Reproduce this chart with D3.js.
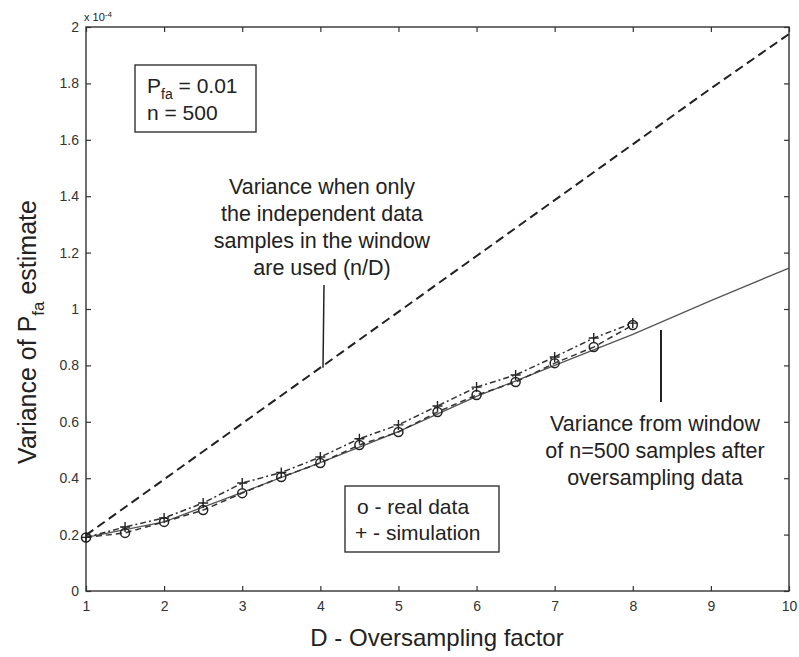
<!DOCTYPE html>
<html>
<head>
<meta charset="utf-8">
<script src="https://cdn.jsdelivr.net/npm/d3@7"></script>
<style>
  body { margin: 0; background: #fff; }
  svg text { font-family: "Liberation Sans", Arial, sans-serif; fill: #222; }
  .tick text { font-size: 14px; fill: #333; }
  .tick line { stroke: #333; stroke-width: 1.2; }
</style>
</head>
<body>
<div id="chart"></div>
<script>
// data (variance in units of 1e-4)
var dHalf = [1, 1.5, 2, 2.5, 3, 3.5, 4, 4.5, 5, 5.5, 6, 6.5, 7, 7.5, 8];
var realData = [0.19, 0.206, 0.245, 0.287, 0.347, 0.404, 0.454, 0.518, 0.564, 0.635, 0.695, 0.741, 0.808, 0.865, 0.943];
var simData = [0.19, 0.227, 0.259, 0.312, 0.383, 0.42, 0.475, 0.54, 0.589, 0.656, 0.723, 0.766, 0.83, 0.897, 0.95];

var dFull = [1, 2, 3, 4, 5, 6, 7, 8, 9, 10];
var independentVar = [0.198, 0.396, 0.594, 0.792, 0.99, 1.188, 1.386, 1.584, 1.782, 1.975];
var windowVar = [0.19, 0.245, 0.35, 0.455, 0.565, 0.69, 0.80, 0.91, 1.03, 1.145];

var xTicks = [1, 2, 3, 4, 5, 6, 7, 8, 9, 10];
var yTicks = [0, 0.2, 0.4, 0.6, 0.8, 1, 1.2, 1.4, 1.6, 1.8, 2];

var width = 799, height = 657;
var padL = 86, padR = 789, padT = 27, padB = 591;

var svg = d3.select("#chart").append("svg")
  .attr("width", width)
  .attr("height", height);

var x = d3.scaleLinear().domain([1, 10]).range([padL, padR]);
var y = d3.scaleLinear().domain([0, 2]).range([padB, padT]);

// axes, ticks pointing inward like matlab
svg.append("g")
  .attr("transform", "translate(0," + padB + ")")
  .call(d3.axisBottom(x).tickValues(xTicks).tickSize(-5).tickPadding(10).tickFormat(d3.format("d")))
  .call(function(g) { g.select(".domain").remove(); });

svg.append("g")
  .attr("transform", "translate(0," + padT + ")")
  .call(d3.axisTop(x).tickValues(xTicks).tickSize(-5).tickFormat(""))
  .call(function(g) { g.select(".domain").remove(); });

svg.append("g")
  .attr("transform", "translate(" + padL + ",0)")
  .call(d3.axisLeft(y).tickValues(yTicks).tickSize(-5).tickPadding(7).tickFormat(function(d) { return String(+d.toFixed(1)); }))
  .call(function(g) { g.select(".domain").remove(); });

svg.append("g")
  .attr("transform", "translate(" + padR + ",0)")
  .call(d3.axisRight(y).tickValues(yTicks).tickSize(-5).tickFormat(""))
  .call(function(g) { g.select(".domain").remove(); });

svg.append("rect")
  .attr("x", padL).attr("y", padT)
  .attr("width", padR - padL).attr("height", padB - padT)
  .attr("fill", "none").attr("stroke", "#333").attr("stroke-width", 1.4);

svg.append("text")
  .attr("x", padL - 2).attr("y", padT - 6)
  .style("font-size", "11px")
  .text("x 10")
  .append("tspan").attr("dy", -4).style("font-size", "8px").text("-4");

// lines
var lineFull = d3.line().x(function(d, i) { return x(dFull[i]); }).y(function(d) { return y(d); });
var lineHalf = d3.line().x(function(d, i) { return x(dHalf[i]); }).y(function(d) { return y(d); });

svg.append("path").datum(windowVar)
  .attr("d", lineFull).attr("fill", "none")
  .attr("stroke", "#555").attr("stroke-width", 1.3);

svg.append("path").datum(independentVar)
  .attr("d", lineFull).attr("fill", "none")
  .attr("stroke", "#222").attr("stroke-width", 2)
  .attr("stroke-dasharray", "9,5");

svg.append("path").datum(realData)
  .attr("d", lineHalf).attr("fill", "none")
  .attr("stroke", "#333").attr("stroke-width", 1.5)
  .attr("stroke-dasharray", "6,4");

svg.append("path").datum(simData)
  .attr("d", lineHalf).attr("fill", "none")
  .attr("stroke", "#333").attr("stroke-width", 1.5)
  .attr("stroke-dasharray", "6,3,2,3");

// markers
svg.selectAll(".real").data(realData).enter().append("circle")
  .attr("class", "real")
  .attr("cx", function(d, i) { return x(dHalf[i]); })
  .attr("cy", function(d) { return y(d); })
  .attr("r", 4.5)
  .attr("fill", "none").attr("stroke", "#222").attr("stroke-width", 1.5);

svg.selectAll(".sim").data(simData).enter().append("path")
  .attr("class", "sim")
  .attr("transform", function(d, i) { return "translate(" + x(dHalf[i]) + "," + y(d) + ")"; })
  .attr("d", "M-5,0H5M0,-5V5")
  .attr("stroke", "#222").attr("stroke-width", 1.4);

// Pfa box
svg.append("rect")
  .attr("x", 135).attr("y", 65).attr("width", 121).attr("height", 67)
  .attr("fill", "#fff").attr("stroke", "#333").attr("stroke-width", 1.4);

var pfa = svg.append("text").attr("x", 147).attr("y", 93).style("font-size", "21px");
pfa.append("tspan").text("P");
pfa.append("tspan").attr("dy", 6).style("font-size", "14px").text("fa");
pfa.append("tspan").attr("dy", -6).text(" = 0.01");
svg.append("text").attr("x", 147).attr("y", 120).style("font-size", "21px").text("n = 500");

// annotation for n/D curve
var noteA = ["Variance when only", "the independent data", "samples in the window", "are used (n/D)"];
svg.append("g").selectAll("text").data(noteA).enter().append("text")
  .attr("x", 322).attr("y", function(d, i) { return 194 + i * 27; })
  .attr("text-anchor", "middle").style("font-size", "21.5px")
  .text(function(d) { return d; });
svg.append("line")
  .attr("x1", 324).attr("x2", 323).attr("y1", 285).attr("y2", y(0.792))
  .attr("stroke", "#222").attr("stroke-width", 1.5);

// annotation for window curve
var noteB = ["Variance from window", "of n=500 samples after", "oversampling data"];
svg.append("g").selectAll("text").data(noteB).enter().append("text")
  .attr("x", 655).attr("y", function(d, i) { return 431 + i * 27; })
  .attr("text-anchor", "middle").style("font-size", "21.5px")
  .text(function(d) { return d; });
svg.append("line")
  .attr("x1", 661).attr("x2", 661).attr("y1", 330).attr("y2", 402)
  .attr("stroke", "#222").attr("stroke-width", 2);

// legend
svg.append("rect")
  .attr("x", 345).attr("y", 486).attr("width", 154).attr("height", 66)
  .attr("fill", "#fff").attr("stroke", "#333").attr("stroke-width", 1.4);
svg.append("text").attr("x", 357).attr("y", 514).style("font-size", "21px").text("o - real data");
svg.append("text").attr("x", 355).attr("y", 540).style("font-size", "21px").text("+ - simulation");

// axis labels
svg.append("text")
  .attr("x", 437).attr("y", 646)
  .attr("text-anchor", "middle").style("font-size", "24px")
  .text("D - Oversampling factor");

var yl = svg.append("text")
  .attr("transform", "translate(36,332)rotate(-90)")
  .attr("text-anchor", "middle").style("font-size", "25px");
yl.append("tspan").text("Variance of P");
yl.append("tspan").attr("dy", 8).style("font-size", "17px").text("fa");
yl.append("tspan").attr("dy", -8).text(" estimate");
</script>
</body>
</html>
